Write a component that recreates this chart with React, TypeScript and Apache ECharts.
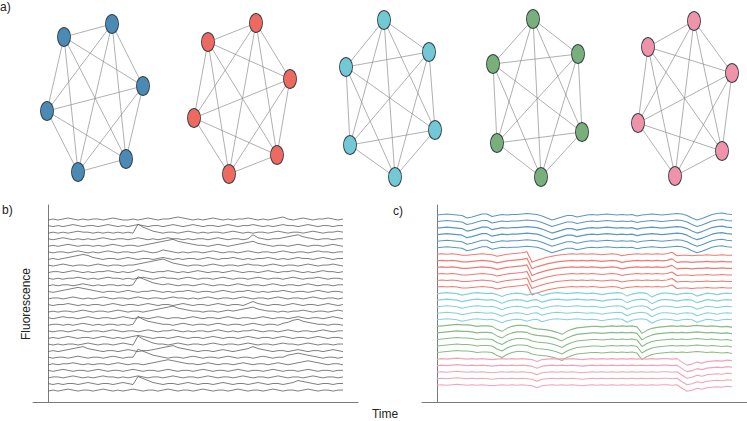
import React, { useEffect, useRef } from "react";
import * as echarts from "echarts";

// ---- panel a: network layouts (node positions in layout units) ----
const netColors = ["#4a8ab4", "#ee6a60", "#72c8d5", "#78af7a", "#ef92aa"];
const traceColors = ["#5b97c4", "#f07a72", "#86d0dc", "#88bb88", "#f3a3b8"];
const netBlue = [[64, 37], [112, 24], [143, 86], [47, 111], [126, 159], [78, 172]];
const netRed = [[208, 42], [256, 23], [290, 79], [194, 118], [277, 155], [229, 174]];
const netCyan = [[384, 20], [429, 52], [346, 67], [435, 130], [350, 145], [395, 177]];
const netGreen = [[533, 19], [578, 54], [493, 64], [582, 132], [497, 143], [541, 177]];
const netPink = [[694, 21], [648, 47], [732, 73], [638, 123], [722, 151], [675, 176]];
const networks = [netBlue, netRed, netCyan, netGreen, netPink];

// ---- panel b: raw fluorescence traces (offset above each trace's baseline) ----
const b0 = [0,1,0,1,2,1,0,1,0,1, 1,0,1,2,1,0,0,1,0,1, 2,1,0,1,1,2,3,2,1,0, 1,0,1,2,1,0,1,0,1,1, 2,1,0,1,0,1,2,3,1,0, 1,2,1,0,1,1,2,1,0,1];
const b1 = [1,0,1,0,1,2,1,0,1,1, 0,1,2,1,0,1,0,1,2,1, 0,1,1,0,1,2,1,0,1,2, 1,0,1,1,0,1,2,1,0,1, 1,2,1,0,1,0,1,2,1,1, 0,1,2,1,0,1,1,0,1,1];
const b2 = [0,1,0,1,0,1,2,1,1,0, 1,0,1,0,1,0,1,0,9,6, 4,2,1,0,1,1,0,1,2,1, 0,1,0,1,1,0,1,2,1,0, 1,0,1,1,0,1,2,1,0,1, 1,0,1,2,1,0,1,1,2,1];
const b3 = [1,0,1,2,1,0,1,0,1,0, 1,2,1,0,1,1,0,1,2,1, 0,1,0,1,2,1,1,0,1,0, 1,1,0,1,2,1,0,1,1,0, 1,5,2,1,0,1,1,2,3,4, 5,3,2,1,0,1,1,0,1,1];
const b4 = [0,1,0,1,2,1,0,1,1,0, 1,0,1,2,1,0,1,1,0,1, 2,3,4,5,6,7,5,4,3,2, 1,1,0,1,2,1,0,1,2,3, 4,5,3,2,1,0,1,1,0,1, 2,1,0,1,1,0,1,2,1,0];
const b5 = [1,0,1,1,0,1,2,1,0,1, 0,1,2,1,0,1,1,0,1,2, 1,0,1,3,2,1,0,1,0,1, 1,0,1,2,1,0,1,1,0,1, 2,1,0,1,1,0,1,2,1,0, 1,1,0,1,2,1,1,0,1,1];
const b6 = [0,1,0,1,2,3,4,5,4,2, 1,0,1,1,0,1,2,1,0,1, 1,0,1,2,1,0,1,0,1,1, 0,1,2,1,0,1,1,2,1,0, 1,0,1,1,2,1,0,1,0,1, 2,1,1,0,1,2,1,0,1,1];
const b7 = [1,0,1,2,1,0,1,1,0,1, 2,1,0,1,1,0,1,1,2,3, 4,5,6,7,5,3,2,1,0,1, 1,0,1,2,1,0,1,1,0,1, 2,1,1,0,1,2,1,0,1,1, 0,1,2,1,0,1,1,2,1,0];
const b8 = [0,1,1,0,1,2,1,0,1,0, 1,1,2,1,0,1,0,1,3,2, 1,0,1,1,2,1,0,1,0,1, 2,1,0,1,1,0,1,2,1,0, 1,1,0,1,2,1,0,1,1,2, 1,0,1,0,1,2,1,1,0,1];
const b9 = [1,0,1,0,1,1,2,1,0,1, 0,1,2,1,1,0,1,0,1,2, 1,0,1,2,1,1,0,1,2,1, 0,1,1,0,1,2,1,0,1,1, 0,1,2,1,0,1,1,0,1,2, 1,0,1,1,2,1,0,1,1,0];
const b10 = [0,1,0,1,1,0,1,2,1,0, 1,0,1,1,0,1,0,1,9,7, 5,3,2,1,2,1,0,1,1,0, 1,2,1,0,1,1,0,1,2,1, 0,1,1,0,1,2,1,0,1,1, 0,1,2,1,0,1,1,0,1,1];
const b11 = [1,0,1,2,3,4,5,4,3,2, 1,0,1,1,0,1,2,1,0,1, 1,2,1,0,1,0,1,1,2,1, 0,1,1,0,1,2,1,0,1,1, 2,1,0,1,0,1,1,2,1,0, 1,1,0,1,2,1,0,1,1,0];
const b12 = [0,1,1,0,1,2,1,0,1,0, 1,2,1,0,1,1,0,1,2,1, 0,1,1,0,1,2,1,1,0,1, 0,1,2,1,0,1,1,0,1,2, 1,0,1,1,0,1,2,1,0,1, 1,0,1,2,1,0,1,1,0,1];
const b13 = [1,0,1,1,2,1,0,1,0,1, 1,0,1,2,1,0,1,1,0,1, 2,1,0,1,1,0,1,2,1,0, 1,1,0,1,2,1,0,1,1,0, 2,4,2,1,0,1,1,0,1,2, 1,0,1,1,0,1,2,1,0,1];
const b14 = [0,1,0,1,1,0,1,2,1,0, 1,1,0,1,2,1,0,1,1,0, 1,2,3,4,5,6,4,3,2,1, 1,0,1,1,0,1,2,1,2,3, 4,5,3,2,1,1,0,1,0,1, 1,2,1,0,1,1,0,1,2,1];
const b15 = [1,0,1,2,1,1,0,1,2,1, 0,1,1,0,1,2,1,0,1,1, 0,1,2,1,0,1,1,0,1,2, 1,0,1,1,0,1,2,1,0,1, 1,0,1,2,1,0,1,1,0,1, 2,1,0,1,1,0,1,2,1,0];
const b16 = [0,1,1,0,1,0,1,2,1,0, 1,0,1,1,0,1,0,1,9,6, 4,3,2,1,1,0,1,2,1,0, 1,1,0,1,2,1,0,1,1,0, 1,2,1,0,1,1,0,2,3,5, 6,4,3,2,1,1,0,1,1,0];
const b17 = [1,0,1,1,0,1,2,1,0,1, 1,0,1,2,1,0,1,1,0,1, 2,1,0,1,1,2,1,0,1,0, 1,1,0,1,2,1,0,1,0,1, 1,2,1,0,1,1,0,1,2,1, 0,1,1,0,1,2,1,0,1,1];
const b18 = [0,1,0,1,2,1,0,1,1,0, 1,2,1,0,1,0,1,2,3,2, 1,0,1,1,0,1,2,1,0,1, 1,0,1,2,1,0,1,1,0,1, 2,1,0,1,1,0,1,2,1,0, 1,1,0,1,2,1,0,1,1,0];
const b19 = [1,0,1,0,1,1,0,1,2,1, 0,1,1,0,1,2,1,0,9,6, 4,2,1,1,0,1,2,1,0,1, 1,0,1,2,1,0,1,1,0,1, 2,1,0,1,1,0,1,2,1,1, 0,1,2,1,0,1,1,0,1,1];
const b20 = [0,1,0,1,2,3,4,5,3,2, 1,0,1,1,0,1,2,1,0,1, 1,2,3,4,5,6,4,3,2,1, 0,1,1,0,1,2,1,0,1,2, 3,5,3,2,1,0,1,1,0,1, 2,1,0,1,1,0,1,2,1,0];
const b21 = [1,0,1,1,0,1,2,1,0,1, 1,0,1,2,1,0,1,1,9,7, 5,3,2,1,0,1,1,0,1,2, 1,0,1,1,0,1,2,1,0,1, 1,0,1,2,1,0,1,1,3,4, 5,4,3,2,1,0,1,1,0,1];
const b22 = [0,1,0,1,1,2,1,0,1,0, 1,1,0,1,2,1,0,1,1,0, 1,2,3,4,5,4,3,2,1,1, 0,1,2,1,0,1,1,0,1,2, 1,0,1,1,0,1,2,1,0,1, 2,3,4,3,2,1,0,1,1,0];
const b23 = [1,0,1,2,1,0,1,1,0,1, 2,1,0,1,1,0,1,2,1,0, 1,1,0,1,2,1,0,1,1,0, 1,2,1,0,1,1,0,1,2,1, 0,1,1,0,1,2,1,0,1,1, 0,1,2,1,0,1,1,0,1,1];
const b24 = [0,1,1,0,1,2,1,0,1,0, 1,2,1,1,0,1,0,1,2,1, 0,1,1,0,1,2,1,0,1,1, 0,1,2,1,0,1,1,0,1,2, 1,0,1,1,0,1,2,1,0,1, 1,0,1,2,1,0,1,1,0,1];
const b25 = [1,0,1,0,1,1,0,1,2,1, 0,1,1,0,1,2,1,0,8,6, 4,2,1,0,1,1,0,1,2,1, 0,1,1,0,1,2,1,0,1,1, 0,1,2,1,0,1,1,0,1,2, 4,3,2,1,0,1,1,0,1,1];
const b26 = [0,1,0,1,2,1,0,1,1,0, 1,2,1,0,1,0,1,2,1,0, 1,1,0,1,2,1,0,1,1,0, 1,2,1,0,1,1,0,1,2,1, 0,1,1,0,1,2,1,0,1,1, 0,1,2,1,0,1,1,0,1,1];
const rawTraces = [b0,b1,b2,b3,b4,b5,b6,b7,b8,b9,b10,b11,b12,b13,b14,b15,b16,b17,b18,b19,b20,b21,b22,b23,b24,b25,b26];

// ---- panel c: cluster-averaged trace shapes and trace counts per cluster ----
const cBlue = [0,0.5,1,0.5,0,-0.5,-3,-2,-0.5,1, 1,-1.5,-0.5,0.5,0,0.5,0.5,1,1.5,1, 0.5,-1,-3,-5,-3.5,-2,-0.5,-0.5,-2,-1, 0,0.5,0,0.5,1,0.5,0,0.5,0,0.5, -1,0,0.5,1,0.5,0,0.5,1,1.5,1, -0.5,-3,-5,-3.5,-1.5,0.5,1.5,2,1,0.5];
const cRed = [0,0.5,0,0.5,0,-1,-1,-0.5,0,0.5, 0,-0.5,-2,-1,0,0.5,1,1.5,2.5,-8, -6,-4.5,-3,-2,-1,-0.5,0,0.5,0,0.5, 0,0.5,0,-0.5,0,0.5,0,-1.5,-0.5,0, 0.5,0,0.5,0,0.5,0,0.5,2,-1.5,-1, -1,-1.5,-1,-1,-0.5,-1,-1,-0.5,-1,-1];
const cCyan = [0,0.5,1,0.5,0,-1.5,-0.5,0.5,1,0.5, 0,0.5,-1,-3,-1,0,0.5,0,-1.5,0, 0.5,-2,-0.5,0.5,1,0.5,0,0.5,1,0.5, 0,0.5,0,-1,0,0.5,1,0.5,-2.5,-0.5, 0.5,1,0,-3.5,-1,0.5,0.5,0,-1,0, 0.5,0,-2.5,-1,0.5,0,-1,0,0.5,0];
const cGreen = [0,0.5,1,1.5,2,1.5,1.5,1,0,0.5, 0.5,0,-3,-5,-2,0,1,1,0.5,-1.5, -2.5,-3,-3.5,-4.5,-6,-8,-5,-3,-1.5,-1, -0.5,0,0,-0.5,0,0.5,0,0.5,0,0.5, -0.5,-7,-4,-2,-1,-0.5,0,0.5,0,0.5, 0,0.5,1,0.5,0,0.5,0,-0.5,0,-1];
const cPink = [0,0.5,0,0.5,1,0.5,0,0.5,0,0.5, 0,-0.5,0,0.5,0,0.5,0,0.5,0,-0.5, -2.5,-0.5,0,0.5,0,0.5,0,0.5,0,-0.5, 0,0.5,0,0.5,0,0.5,0,0.5,0,0.5, 0,0.5,0,0.5,0,0.5,0.5,0,0.5,-3, -6,-5,-3,-4,-2.5,-2,-1.5,-2,-1,-1.5];
const clusterShapes = [cBlue, cRed, cCyan, cGreen, cPink];
const clusterCounts = [6, 6, 5, 5, 5];

const FONT = "Liberation Sans, Arial, sans-serif";

export default function App() {
  const ref = useRef<HTMLDivElement>(null);
  useEffect(() => {
    if (!ref.current) return;
    const chart = echarts.init(ref.current, undefined, { renderer: "svg" });

    const ellipse = "path://M0,10 A10,10 0 1,1 20,10 A10,10 0 1,1 0,10 Z";
    const pairs: { source: number; target: number }[] = [];
    for (let i = 0; i < 6; i++) for (let j = i + 1; j < 6; j++) pairs.push({ source: i, target: j });

    const series: any[] = [];
    networks.forEach((nodes, n) => {
      series.push({
        type: "graph",
        coordinateSystem: "cartesian2d",
        xAxisIndex: 0,
        yAxisIndex: 0,
        data: nodes.map((p) => ({ value: p })),
        links: pairs,
        symbol: ellipse,
        symbolSize: [13, 19],
        itemStyle: { color: netColors[n], borderColor: "#2e3a42", borderWidth: 1 },
        lineStyle: { color: "#8e8e8e", width: 0.7, opacity: 1, curveness: 0 },
        label: { show: false },
        silent: true,
        z: 2,
      });
    });

    const spacing = 6.58;
    rawTraces.forEach((t, k) => {
      const base = 182 - k * spacing;
      series.push({
        type: "line",
        xAxisIndex: 1,
        yAxisIndex: 1,
        data: t.map((v, i) => [i, base + v]),
        symbol: "none",
        silent: true,
        lineStyle: { color: "#5e5e5e", width: 0.8 },
      });
    });

    let k = 0;
    clusterShapes.forEach((shape, g) => {
      for (let r = 0; r < clusterCounts[g]; r++) {
        const base = 187 - k * 6.55;
        series.push({
          type: "line",
          xAxisIndex: 2,
          yAxisIndex: 2,
          data: shape.map((v, i) => [i, base + v]),
          symbol: "none",
          silent: true,
          lineStyle: { color: traceColors[g], width: 1.1 },
        });
        k++;
      }
    });

    const panelAxisLine = { show: true, lineStyle: { color: "#7a7a7a", width: 1 } };
    const traceX = (idx: number) => ({
      gridIndex: idx,
      type: "value",
      min: -3,
      max: 62,
      axisLine: panelAxisLine,
      axisTick: { show: false },
      axisLabel: { show: false },
      splitLine: { show: false },
    });
    const traceY = (idx: number) => ({
      gridIndex: idx,
      type: "value",
      min: 0,
      max: 197,
      axisLine: panelAxisLine,
      axisTick: { show: false },
      axisLabel: { show: false },
      splitLine: { show: false },
    });

    const txt = (text: string, x: number, y: number, extra: any = {}) => ({
      type: "text",
      x,
      y,
      style: { text, fill: "#222", font: `12px ${FONT}`, textAlign: "left", textVerticalAlign: "middle", ...extra },
    });

    chart.setOption({
      animation: false,
      backgroundColor: "#ffffff",
      grid: [
        { left: 0, top: 0, width: 747, height: 195 },
        { left: 33, top: 205, width: 325, height: 197 },
        { left: 422, top: 205, width: 325, height: 197 },
      ],
      xAxis: [
        { gridIndex: 0, type: "value", min: 0, max: 747, show: false },
        traceX(1),
        traceX(2),
      ],
      yAxis: [
        { gridIndex: 0, type: "value", min: 0, max: 195, inverse: true, show: false },
        traceY(1),
        traceY(2),
      ],
      series,
      graphic: [
        txt("a)", 0, 7),
        txt("b)", 2, 210),
        txt("c)", 393, 211),
        {
          type: "text",
          x: 26,
          y: 304,
          rotation: Math.PI / 2,
          style: { text: "Fluorescence", fill: "#222", font: `12px ${FONT}`, textAlign: "center", textVerticalAlign: "middle" },
        },
        txt("Time", 385, 414, { textAlign: "center" }),
      ],
    });
    return () => chart.dispose();
  }, []);
  return <div ref={ref} style={{ position: "absolute", left: 0, top: 0, width: 747, height: 421 }} />;
}
